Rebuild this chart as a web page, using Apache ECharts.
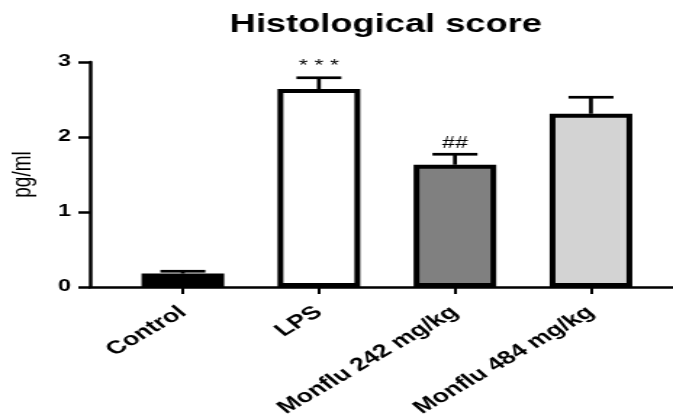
<!DOCTYPE html>
<html>
<head>
<meta charset="utf-8">
<script src="https://cdn.jsdelivr.net/npm/echarts@6/dist/echarts.min.js"></script>
<style>
  html, body { margin: 0; padding: 0; background: #fff; overflow: hidden; }
  /* the reference is stretched sideways, so the chart is drawn narrow and scaled in x */
  #chart { width: 464px; height: 414px; transform: scaleX(1.4504); transform-origin: 0 0; }
</style>
</head>
<body>
<div id="chart"></div>
<script>
// data
const categories = ['Control', 'LPS', 'Monflu 242 mg/kg', 'Monflu 484 mg/kg'];
const means = [0.18, 2.64, 1.63, 2.31];
const sem = [0.03, 0.15, 0.14, 0.22];
const marks = ['', '* * *', '##', ''];
const barColors = ['#000000', '#ffffff', '#808080', '#d3d3d3'];
const yTicks = [0, 1, 2, 3];

const font = '"Liberation Sans", Arial, sans-serif';
const catIdx = categories.map((c, i) => i);

const barData = categories.map((c, i) => ({
    value: [i, means[i]],
    itemStyle: { color: barColors[i] }
}));
const errData = categories.map((c, i) => [i, means[i], means[i] + sem[i]]);

function renderError(params, api) {
    const i = api.value(0);
    const base = api.coord([i, api.value(1)]);
    const top = api.coord([i, api.value(2)]);
    const cap = 15.5;
    return {
        type: 'group',
        children: [
            { type: 'line', shape: { x1: base[0], y1: base[1], x2: top[0], y2: top[1] },
              style: { stroke: '#000', lineWidth: 2.7 } },
            { type: 'line', shape: { x1: top[0] - cap, y1: top[1], x2: top[0] + cap, y2: top[1] },
              style: { stroke: '#000', lineWidth: 2.7 } },
            { type: 'text', x: top[0], y: top[1] - 3,
              style: { text: marks[params.dataIndex], fill: '#000', font: '16px ' + font,
                       align: 'center', verticalAlign: 'bottom' } }
        ]
    };
}

var myChart = echarts.init(document.getElementById('chart'));
myChart.setOption({
    animation: false,
    title: {
        text: 'Histological score',
        left: 261,
        top: 8,
        textAlign: 'center',
        textStyle: { fontFamily: font, fontWeight: 'bold', fontSize: 25, color: '#000' }
    },
    grid: { left: 62, right: 0, top: 62, bottom: 127, outerBoundsMode: 'none' },
    xAxis: {
        type: 'value',
        min: -0.683,
        max: 3.603,
        splitLine: { show: false },
        axisLine: { show: true, lineStyle: { color: '#000', width: 2.5 } },
        axisTick: { show: true, customValues: catIdx, length: 7, lineStyle: { color: '#000', width: 2 } },
        axisLabel: {
            customValues: catIdx,
            formatter: v => categories[Math.round(v)],
            rotate: 40,
            margin: 23,
            fontFamily: font,
            fontWeight: 'bold',
            fontSize: 18.5,
            color: '#000'
        }
    },
    yAxis: {
        type: 'value',
        min: 0,
        max: 3,
        interval: 1,
        name: 'pg/ml',
        nameLocation: 'middle',
        nameGap: 37,
        nameTextStyle: { fontFamily: font, fontSize: 19, color: '#000' },
        splitLine: { show: false },
        axisLine: { show: true, onZero: false, lineStyle: { color: '#000', width: 2.5 } },
        axisTick: { show: true, length: 8, lineStyle: { color: '#000', width: 2.5 } },
        axisLabel: {
            margin: 13,
            formatter: v => yTicks.indexOf(v) >= 0 ? String(v) : '',
            fontFamily: font, fontWeight: 'bold', fontSize: 16, color: '#000'
        }
    },
    series: [
        {
            type: 'bar',
            data: barData,
            barWidth: 57,
            itemStyle: { borderColor: '#000', borderWidth: 4 }
        },
        {
            type: 'custom',
            renderItem: renderError,
            data: errData,
            encode: { x: 0, y: [1, 2] },
            z: 3
        }
    ]
});
</script>
</body>
</html>
